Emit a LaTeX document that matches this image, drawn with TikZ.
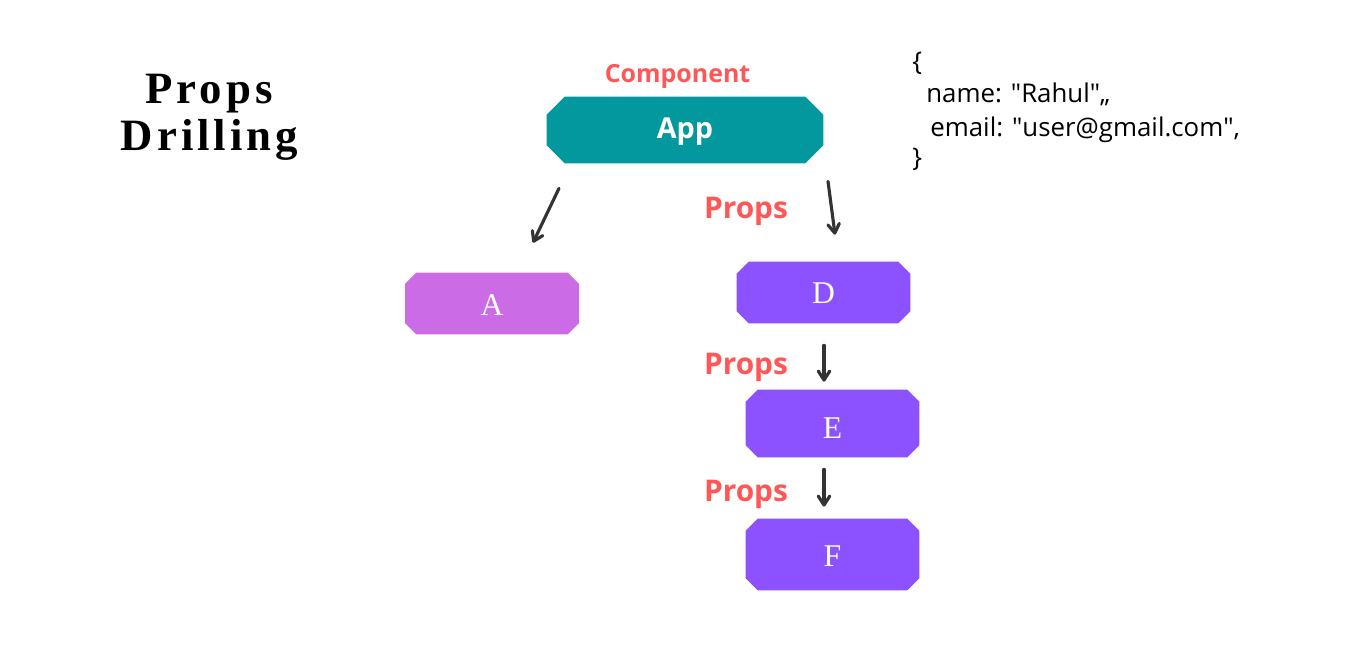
\documentclass[tikz,border=0pt]{standalone}
\usepackage{fontspec}
\setmainfont{Liberation Serif}
\setsansfont{Open Sans}
\newfontfamily\titlefont[LetterSpace=9]{Liberation Serif}
\usepackage{xcolor}
\usetikzlibrary{arrows.meta, backgrounds}

\definecolor{appteal}{RGB}{3,152,158}
\definecolor{compA}{RGB}{203,108,230}
\definecolor{compD}{RGB}{140,82,255}
\definecolor{propred}{RGB}{255,87,87}
\definecolor{arrowgray}{RGB}{51,51,51}

\begin{document}
\begin{tikzpicture}[
			every node/.style={inner sep=0pt},
			comp/.style={text=white, minimum width=3.46cm, text depth=0cm, font=\fontsize{18}{20}\selectfont},
			props/.style={anchor=base, text=propred, font=\sffamily\bfseries\fontsize{17}{20}\selectfont},
			json/.style={anchor=base west, font=\sffamily\fontsize{14.7}{17}\selectfont},
			arrow/.style={-{Straight Barb[length=1.8mm, width=2.3mm, round]}, line width=1.8pt, line cap=round, draw=arrowgray},
			]
			
			\useasboundingbox (0,0) rectangle (27,-13);
			
			\node[anchor=base, font=\titlefont\bfseries\fontsize{25.5}{28}\selectfont] (title1) at (4.18,-2.08) {Props};
			\node[anchor=base, font=\titlefont\bfseries\fontsize{25.5}{28}\selectfont] (title2) at (4.19,-3.02) {Drilling};
			
			\node[props, font=\sffamily\bfseries\fontsize{14.2}{17}\selectfont] (complabel) at (13.55,-1.66) {Component};
			\node[comp, minimum width=5.52cm, minimum height=1.32cm, text height=0.36cm, font=\sffamily\bfseries\fontsize{16.4}{19}\selectfont] (app) at (13.70,-2.60) {App};
			
			\node[comp, minimum height=1.22cm, text height=0.50cm] (a) at (9.84,-6.07) {A};
			\node[comp, minimum height=1.22cm, text height=0.46cm] (d) at (16.47,-5.85) {D};
			\node[comp, minimum height=1.34cm, text height=0.58cm] (e) at (16.65,-8.47) {E};
			\node[comp, minimum height=1.42cm, text height=0.46cm] (f) at (16.65,-11.09) {F};
			
			% chamfered boxes behind the nodes
			\begin{pgfonlayer}{background}
				\foreach \n/\col/\c in {app/appteal/0.36, a/compA/0.22, d/compD/0.24, e/compD/0.24, f/compD/0.24}
					\fill[\col] ([xshift=\c cm]\n.north west) -- ([xshift=-\c cm]\n.north east) -- ([yshift=-\c cm]\n.north east)
						-- ([yshift=\c cm]\n.south east) -- ([xshift=-\c cm]\n.south east) -- ([xshift=\c cm]\n.south west)
						-- ([yshift=\c cm]\n.south west) -- ([yshift=-\c cm]\n.north west) -- cycle;
			\end{pgfonlayer}
			
			\node[props] (props1) at (14.92,-4.38) {Props};
			\node[props] (props2) at (14.92,-7.50) {Props};
			\node[props] (props3) at (14.92,-10.02) {Props};
			
			\node[json] (jopen) at (18.24,-1.42) {\{};
			\node[json] (jname) at (18.52,-2.06) {name: \textquotedbl Rahul\textquotedbl,,};
			\node[json] (jemail) at (18.60,-2.74) {email: \textquotedbl user@gmail.com\textquotedbl,};
			\node[json] (jclose) at (18.24,-3.34) {\}};
			
			\draw[arrow] ([shift={(-2.52,-0.50)}]app.south) -- ([shift={(0.82,0.60)}]a.north);
			\draw[arrow] ([shift={(2.86,-0.36)}]app.south) -- ([shift={(0.23,0.54)}]d.north);
			\draw[arrow] ([shift={(0.01,-0.44)}]d.south) -- ([shift={(-0.17,0.16)}]e.north);
			\draw[arrow] ([shift={(-0.17,-0.24)}]e.south) -- ([shift={(-0.17,0.24)}]f.north);
			
		\end{tikzpicture}
\end{document}
